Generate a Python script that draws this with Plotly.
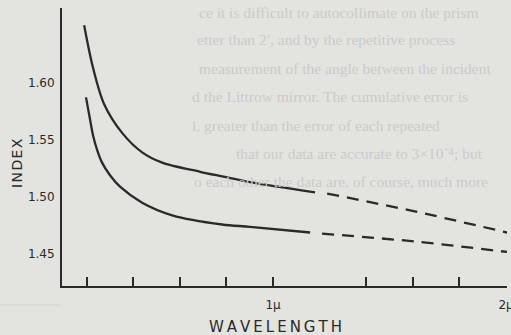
import plotly.graph_objects as go

# ---- data ----
upper_solid_x = [0.189, 0.227, 0.275, 0.352, 0.438, 0.524, 0.687, 0.781, 0.901, 1.180]
upper_solid_y = [1.650, 1.613, 1.581, 1.556, 1.539, 1.530, 1.522, 1.518, 1.513, 1.504]
upper_dash_x = [1.232, 1.618, 2.004]
upper_dash_y = [1.503, 1.487, 1.469]

lower_solid_x = [0.197, 0.215, 0.227, 0.245, 0.266, 0.300, 0.343, 0.438, 0.567, 0.781, 0.901, 1.159]
lower_solid_y = [1.587, 1.567, 1.554, 1.541, 1.530, 1.519, 1.509, 1.495, 1.484, 1.476, 1.474, 1.469]
lower_dash_x = [1.210, 1.618, 2.004]
lower_dash_y = [1.468, 1.461, 1.452]

x_tick_vals = [0.2, 0.4, 0.6, 0.8, 1.0, 1.4, 1.6, 1.8, 2.0]
x_tick_text = ["", "", "", "", "1\u03bc", "", "", "", "2\u03bc"]
y_tick_vals = [1.45, 1.50, 1.55, 1.60]
y_tick_text = ["1.45", "1.50", "1.55", "1.60"]
y_tick_marks = [1.45, 1.50]

bg_lines = [
    "ce it is difficult to autocollimate on the prism",
    "etter than 2\u2032, and by the repetitive process",
    "measurement of the angle between the incident",
    "d the Littrow mirror. The cumulative error is",
    "l, greater than the error of each repeated",
    "that our data are accurate to 3\u00d710\u207b\u2074; but",
    "o each other the data are, of course, much more",
]
bg_x = [197, 195, 197, 190, 190, 234, 192]
bg_y = [12, 40, 68, 96, 125, 153, 181]

INK = "#2a2a2a"
BG = "#e3e3e0"
W, H = 511, 335
L, R, T, B = 62, 4, 8, 49
PW, PH = W - L - R, H - T - B


def px(xp):
    return (xp - L) / PW


def py(yp):
    return (H - B - yp) / PH


fig = go.Figure()
for xs, ys, dash in [
    (upper_solid_x, upper_solid_y, "solid"),
    (upper_dash_x, upper_dash_y, "12px,8px"),
    (lower_solid_x, lower_solid_y, "solid"),
    (lower_dash_x, lower_dash_y, "12px,8px"),
]:
    fig.add_trace(go.Scatter(
        x=xs, y=ys, mode="lines",
        line=dict(color=INK, width=2.3, dash=dash, shape="spline", smoothing=0.9),
        showlegend=False, hoverinfo="skip",
    ))

annotations = []
for txt, xp, yp in zip(bg_lines, bg_x, bg_y):
    annotations.append(dict(
        text=txt, x=px(xp), y=py(yp), xref="paper", yref="paper",
        xanchor="left", yanchor="middle", showarrow=False,
        font=dict(family="Liberation Serif", size=15.5, color="#cbcbc8"),
    ))
annotations.append(dict(
    text="W\u2009A\u2009V\u2009E\u2009L\u2009E\u2009N\u2009G\u2009T\u2009H",
    x=px(275), y=py(327), xref="paper", yref="paper",
    xanchor="center", yanchor="middle", showarrow=False,
    font=dict(family="DejaVu Sans", size=15, color=INK),
))
annotations.append(dict(
    text="I\u200aN\u200aD\u200aE\u200aX",
    x=px(17), y=py(163), xref="paper", yref="paper",
    xanchor="center", yanchor="middle", showarrow=False, textangle=-90,
    font=dict(family="DejaVu Sans", size=14, color=INK),
))

fig.update_layout(
    width=W, height=H,
    margin=dict(l=L, r=R, t=T, b=B, pad=0, autoexpand=False),
    paper_bgcolor=BG, plot_bgcolor=BG,
    annotations=annotations,
    shapes=[dict(type="line", xref="paper", yref="paper",
                 x0=px(0), x1=px(60), y0=py(305), y1=py(305),
                 line=dict(color="#d0d0cd", width=1))],
    xaxis=dict(
        range=[0.094, 2.004], showline=True, linewidth=2, linecolor=INK,
        showgrid=False, zeroline=False, automargin=False,
        tickvals=x_tick_vals, ticktext=x_tick_text,
        ticks="inside", ticklen=9, tickwidth=1.5, tickcolor=INK,
        tickfont=dict(family="DejaVu Sans", size=12, color=INK),
        ticklabelstandoff=7, ticklabeloverflow="allow",
    ),
    yaxis=dict(
        range=[1.4223, 1.665], showline=True, linewidth=2, linecolor=INK,
        showgrid=False, zeroline=False, automargin=False,
        tickvals=y_tick_vals, ticktext=y_tick_text, ticks="",
        tickfont=dict(family="DejaVu Sans", size=12, color=INK),
        ticklabelstandoff=3,
    ),
    yaxis2=dict(
        range=[1.4223, 1.665], overlaying="y", side="left",
        showline=False, showgrid=False, zeroline=False, automargin=False,
        tickvals=y_tick_marks, ticks="inside", ticklen=10, tickwidth=1.5,
        tickcolor=INK, showticklabels=False,
    ),
)

fig.write_html(
    "out.html",
    config={"displayModeBar": False},
    post_script=(
        "document.body.style.margin='0px';"
        "document.body.style.padding='0px';"
        "document.body.style.overflow='hidden';"
        "document.body.style.background='" + BG + "';"
    ),
)
